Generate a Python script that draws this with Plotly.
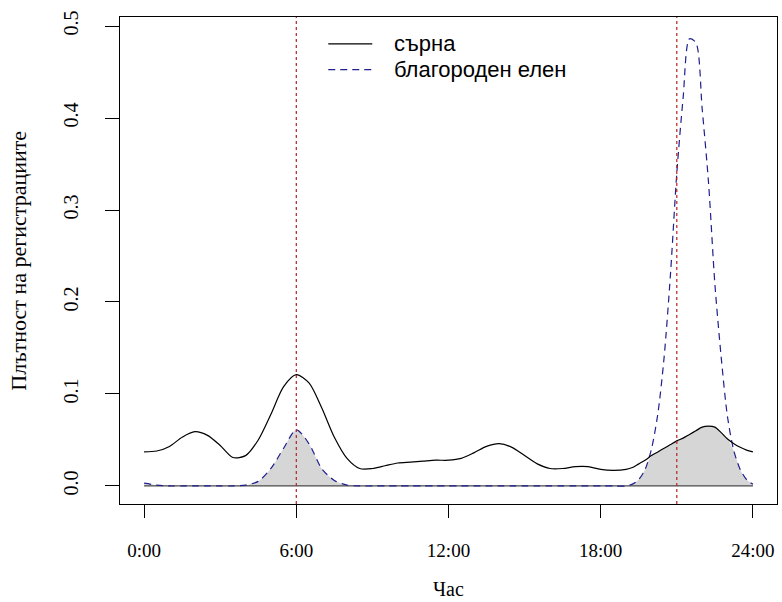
import numpy as np
import plotly.graph_objects as go

# Hour grid shared by both density curves (finer near the evening peak)
hours = [0.0, 0.5, 1.0, 1.5, 2.0, 2.5, 3.0, 3.5, 4.0, 4.5, 5.0, 5.5, 6.0, 6.5,
         7.0, 7.5, 8.0, 8.5, 9.0, 9.5, 10.0, 10.5, 11.0, 11.5, 12.0, 12.5,
         13.0, 13.5, 14.0, 14.5, 15.0, 15.5, 16.0, 16.5, 17.0, 17.5, 18.0,
         18.5, 19.0,
         19.25, 19.5, 19.75, 20.0, 20.25, 20.5, 20.75, 21.0, 21.25, 21.5,
         21.75, 22.0, 22.25, 22.5, 22.75, 23.0, 23.25, 23.5, 23.75, 24.0]

# Activity density of roe deer (сърна)
roe = [0.037, 0.038, 0.043, 0.053, 0.059, 0.055, 0.044, 0.031, 0.033, 0.050,
       0.078, 0.108, 0.121, 0.112, 0.085, 0.053, 0.030, 0.019, 0.019, 0.022,
       0.025, 0.026, 0.027, 0.028, 0.028, 0.030, 0.036, 0.043, 0.046, 0.042,
       0.033, 0.024, 0.019, 0.019, 0.021, 0.021, 0.018, 0.017, 0.018,
       0.020, 0.024, 0.028, 0.033, 0.037, 0.041, 0.045, 0.049, 0.052, 0.056,
       0.060, 0.064, 0.065, 0.064, 0.058, 0.051, 0.046, 0.042, 0.039, 0.037]

# Activity density of red deer (благороден елен)
red_deer = ([0.003, 0.001, 0.0, 0.0, 0.0, 0.0, 0.0, 0.0, 0.001, 0.005,
             0.019, 0.041, 0.061, 0.046, 0.019, 0.006, 0.001]
            + [0.0] * 22
            + [0.002, 0.007, 0.018, 0.040, 0.078, 0.140, 0.230, 0.340, 0.422,
               0.486, 0.482, 0.410, 0.330, 0.220, 0.140, 0.075, 0.038, 0.018,
               0.007, 0.002])

series_names = ["сърна", "благороден елен"]
reference_hours = [6, 21]

x_tick_vals = [0, 6, 12, 18, 24]
x_tick_text = ["0:00", "6:00", "12:00", "18:00", "24:00"]
y_tick_vals = [0.0, 0.1, 0.2, 0.3, 0.4, 0.5]
y_tick_text = ["0.0", "0.1", "0.2", "0.3", "0.4", "0.5"]

x_title = "Час"
y_title = "Плътност на регистрациите"

overlap = np.minimum(np.array(roe), np.array(red_deer))

serif = "Liberation Serif, Times New Roman, serif"
sans = "Liberation Sans, Arial, sans-serif"
deer_color = "#1f1f8f"
dash_style = "7px,5px"

fig = go.Figure()

# shaded overlap of the two activity curves
fig.add_trace(go.Scatter(x=hours, y=overlap, mode="lines", fill="tozeroy",
                         fillcolor="#d6d6d6", line=dict(width=0, shape="spline", smoothing=0.8),
                         hoverinfo="skip", showlegend=False))
# base of the shaded region
fig.add_trace(go.Scatter(x=[hours[0], hours[-1]], y=[0, 0], mode="lines",
                         line=dict(color="#4a4a4a", width=1.2),
                         hoverinfo="skip", showlegend=False))
fig.add_trace(go.Scatter(x=hours, y=red_deer, mode="lines", name=series_names[1],
                         line=dict(color=deer_color, width=1.2, dash=dash_style,
                                   shape="spline", smoothing=0.8),
                         showlegend=False))
fig.add_trace(go.Scatter(x=hours, y=roe, mode="lines", name=series_names[0],
                         line=dict(color="black", width=1.2, shape="spline", smoothing=0.8),
                         showlegend=False))

shapes = []
for h in reference_hours:
    shapes.append(dict(type="line", xref="x", yref="paper", x0=h, x1=h, y0=0, y1=1,
                       line=dict(color="#b22222", width=1.2, dash="dot")))

# legend drawn inside the plot area
legend_rows = [(series_names[0], "black", "solid", 0.945),
               (series_names[1], deer_color, dash_style, 0.892)]
annotations = []
for name, color, dash, ly in legend_rows:
    shapes.append(dict(type="line", xref="paper", yref="paper", x0=0.317, x1=0.384,
                       y0=ly, y1=ly, line=dict(color=color, width=1.2, dash=dash)))
    annotations.append(dict(text=name, xref="paper", yref="paper", x=0.414, y=ly,
                            xanchor="left", yanchor="middle", showarrow=False,
                            font=dict(family=sans, size=22, color="black")))

annotations.append(dict(text=x_title, xref="paper", yref="paper", x=0.5, y=-0.1745,
                        xanchor="center", yanchor="middle", showarrow=False,
                        font=dict(family=serif, size=20, color="black")))
annotations.append(dict(text=y_title, xref="paper", yref="paper", x=-0.155, y=0.5,
                        xanchor="center", yanchor="middle", showarrow=False, textangle=-90,
                        font=dict(family=serif, size=22, color="black")))

fig.update_layout(
    width=782, height=602,
    margin=dict(l=120, r=5, t=17, b=98),
    paper_bgcolor="white", plot_bgcolor="white",
    showlegend=False,
    shapes=shapes, annotations=annotations,
    xaxis=dict(range=[-0.95, 24.95], tickvals=x_tick_vals, ticktext=x_tick_text,
               showgrid=False, zeroline=False, showline=True, linecolor="black",
               linewidth=1, mirror=True, ticks="outside", ticklen=13, tickwidth=1,
               tickcolor="black", ticklabelstandoff=16,
               tickfont=dict(family=serif, size=19, color="black")),
    yaxis=dict(range=[-0.0196, 0.5098], tickvals=y_tick_vals, ticktext=y_tick_text,
               showgrid=False, zeroline=False, showline=True, linecolor="black",
               linewidth=1, mirror=True, ticks="outside", ticklen=14, tickwidth=1,
               tickcolor="black", tickangle=-90, ticklabelstandoff=19,
               tickfont=dict(family=serif, size=20, color="black")),
)

fig.write_html("out.html")
